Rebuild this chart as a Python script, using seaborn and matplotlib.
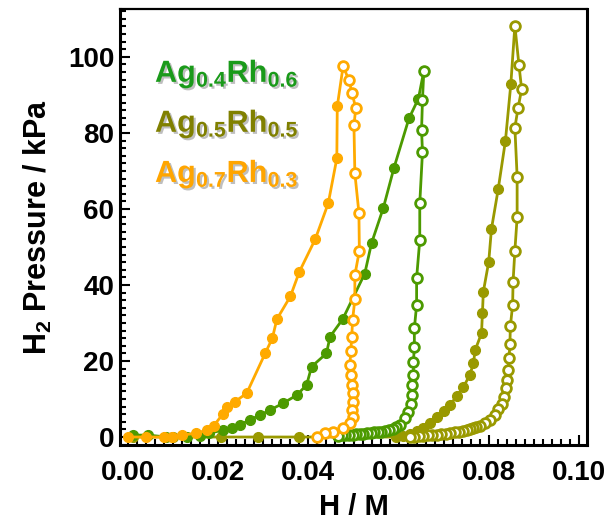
import numpy as np
import matplotlib
matplotlib.use("Agg")
import matplotlib.pyplot as plt
import matplotlib.patheffects as pe
from matplotlib.ticker import MultipleLocator, FormatStrFormatter
import seaborn as sns

# Ag0.7Rh0.3 (orange)
ag07_abs_x = [0.000, 0.004, 0.008, 0.0097, 0.012, 0.015, 0.0175, 0.019, 0.021, 0.022, 0.0237,
              0.0263, 0.0304, 0.032, 0.033, 0.036, 0.038, 0.0415, 0.0444, 0.0463, 0.0464, 0.0477]
ag07_abs_y = [0.0, 0.0, 0.0, 0.0, 0.5, 1.0, 1.8, 3.0, 6.0, 8.0, 9.3,
              11.5, 22.0, 26.0, 31.0, 37.0, 43.5, 52.0, 61.5, 73.3, 87.0, 97.6]
ag07_des_x = [0.0477, 0.0490, 0.0497, 0.0505, 0.0501, 0.0503, 0.0512, 0.0513, 0.0503, 0.0503,
              0.0498, 0.0496, 0.0494, 0.0492, 0.0494, 0.0496, 0.0498, 0.0498, 0.0496, 0.0499,
              0.0492, 0.0477, 0.0455, 0.0437, 0.0418]
ag07_des_y = [97.6, 93.8, 90.4, 86.5, 82.0, 69.4, 59.0, 49.0, 42.6, 36.2,
              30.8, 26.2, 22.7, 19.0, 16.3, 13.7, 11.5, 9.3, 7.1, 5.3,
              3.7, 2.3, 1.4, 1.0, 0.1]

# Ag0.4Rh0.6 (green)
ag04_abs_x = [0.001, 0.0045, 0.0085, 0.013, 0.016, 0.018, 0.021, 0.023, 0.0248, 0.027, 0.0293,
              0.0315, 0.0344, 0.0374, 0.0396, 0.0407, 0.044, 0.0448, 0.0476, 0.0525, 0.054,
              0.0566, 0.059, 0.0623, 0.0644, 0.0656]
ag04_abs_y = [0.5, 0.5, 0.0, 0.0, 0.3, 1.0, 1.8, 2.5, 3.2, 4.5, 5.8,
              7.1, 8.9, 11.0, 13.7, 18.5, 22.0, 26.4, 31.0, 43.0, 51.0,
              60.2, 70.9, 83.8, 89.0, 96.3]
ag04_des_x = [0.0656, 0.0653, 0.0651, 0.0653, 0.0647, 0.0647, 0.0640, 0.0640, 0.0635, 0.0635,
              0.0633, 0.0633, 0.0630, 0.0630, 0.0627, 0.0622, 0.0614, 0.0603, 0.0595, 0.0587,
              0.0578, 0.0570, 0.0562, 0.0554, 0.0546, 0.0538, 0.0530, 0.0522, 0.0514, 0.0506,
              0.0498, 0.0490, 0.0482, 0.0474, 0.0466]
ag04_des_y = [96.3, 88.7, 80.8, 74.9, 61.5, 51.8, 41.8, 34.7, 28.6, 23.8,
              19.8, 16.3, 13.7, 11.0, 8.7, 6.7, 4.9, 3.2, 2.6, 2.2,
              1.9, 1.6, 1.4, 1.3, 1.2, 1.1, 1.0, 0.9, 0.8, 0.7,
              0.6, 0.5, 0.5, 0.4, 0.3]

# Ag0.5Rh0.5 (olive)
ag05_abs_x = [0.001, 0.010, 0.0205, 0.0288, 0.038, 0.0595, 0.0610, 0.0625, 0.0640, 0.0655,
              0.0670, 0.0685, 0.0700, 0.0714, 0.0730, 0.0744, 0.0758, 0.0766, 0.0770, 0.0784,
              0.0786, 0.0788, 0.0800, 0.0806, 0.0821, 0.0837, 0.0849, 0.0858]
ag05_abs_y = [0.0, 0.0, 0.0, 0.0, 0.0, 0.0, 0.3, 0.8, 1.5, 2.5,
              3.8, 5.2, 6.8, 8.5, 10.8, 13.2, 16.3, 19.4, 22.9, 27.3,
              32.5, 38.2, 46.1, 54.7, 65.2, 77.9, 92.8, 108.2]
ag05_des_x = [0.0858, 0.0867, 0.0873, 0.0865, 0.0858, 0.0863, 0.0863, 0.0858, 0.0854, 0.0853,
              0.0848, 0.0847, 0.0845, 0.0843, 0.0841, 0.0838, 0.0834, 0.0829, 0.0821, 0.0814,
              0.0803, 0.0792, 0.0780, 0.0772, 0.0765, 0.0758, 0.0751, 0.0743, 0.0735, 0.0725,
              0.0714, 0.0705, 0.0695, 0.0685, 0.0675, 0.0665, 0.0655, 0.0645, 0.0635, 0.0625]
ag05_des_y = [108.2, 97.9, 91.5, 86.5, 81.4, 68.5, 57.8, 49.0, 40.9, 34.7,
              29.2, 24.5, 20.7, 17.6, 15.0, 12.8, 10.6, 8.8, 7.3, 5.8,
              4.5, 3.6, 2.9, 2.6, 2.3, 2.0, 1.8, 1.6, 1.4, 1.2,
              1.0, 0.9, 0.8, 0.6, 0.5, 0.4, 0.3, 0.2, 0.1, 0.1]

labels = [r"$\mathbf{Ag_{0.4}Rh_{0.6}}$", r"$\mathbf{Ag_{0.5}Rh_{0.5}}$", r"$\mathbf{Ag_{0.7}Rh_{0.3}}$"]
line_colors = ["#4c9a00", "#999900", "#ffaa00"]
text_colors = ["#1a9a1a", "#808000", "#ffa500"]

sns.set_theme(style="ticks")
plt.rcParams["font.family"] = ["Liberation Sans", "DejaVu Sans"]
plt.rcParams["font.weight"] = "bold"
plt.rcParams["mathtext.fontset"] = "custom"
plt.rcParams["mathtext.rm"] = "Liberation Sans:bold"
plt.rcParams["mathtext.bf"] = "Liberation Sans:bold"
plt.rcParams["mathtext.it"] = "Liberation Sans:bold"
plt.rcParams["text.color"] = "black"
plt.rcParams["axes.labelcolor"] = "black"
plt.rcParams["xtick.color"] = "black"
plt.rcParams["ytick.color"] = "black"
plt.rcParams["axes.edgecolor"] = "black"

fig = plt.figure(figsize=(6.09, 5.25), dpi=100)
ax = fig.add_axes([120 / 609, 80 / 525, 467 / 609, 436 / 525])

series = [
    (ag05_abs_x, ag05_abs_y, ag05_des_x, ag05_des_y, line_colors[1]),
    (ag04_abs_x, ag04_abs_y, ag04_des_x, ag04_des_y, line_colors[0]),
    (ag07_abs_x, ag07_abs_y, ag07_des_x, ag07_des_y, line_colors[2]),
]
for ax_x, ax_y, dx, dy, c in series:
    sns.lineplot(x=ax_x, y=ax_y, sort=False, estimator=None, ax=ax, color=c, lw=2,
                 marker="o", markersize=7, markerfacecolor=c, markeredgecolor=c,
                 markeredgewidth=1)
    sns.lineplot(x=dx, y=dy, sort=False, estimator=None, ax=ax, color=c, lw=2,
                 marker="o", markersize=7, markerfacecolor="white", markeredgecolor=c,
                 markeredgewidth=2)

ax.set_xlim(-0.0018, 0.1018)
ax.set_ylim(-2.1, 112.6)
ax.xaxis.set_major_locator(MultipleLocator(0.02))
ax.xaxis.set_minor_locator(MultipleLocator(0.002))
ax.yaxis.set_major_locator(MultipleLocator(20))
ax.yaxis.set_minor_locator(MultipleLocator(2))
ax.xaxis.set_major_formatter(FormatStrFormatter("%.2f"))
ax.tick_params(which="both", direction="in", width=1.5, top=False, right=False)
ax.tick_params(which="major", length=7, labelsize=20)
ax.tick_params(which="minor", length=4)
ax.tick_params(axis="x", pad=11)
ax.tick_params(axis="y", pad=4)
for side in ["left", "bottom", "right"]:
    ax.spines[side].set_linewidth(2.2)
ax.spines["top"].set_linewidth(1.6)

ax.set_xlabel("H / M", fontsize=21, fontweight="bold", labelpad=5)
ax.set_ylabel(r"H$_\mathbf{2}$ Pressure / kPa", fontsize=22, fontweight="bold", labelpad=10)

shadow = [pe.withSimplePatchShadow(offset=(1.5, -1.5), shadow_rgbFace="gray", alpha=0.5)]
for lab, tc, yb in zip(labels, text_colors, [0.8326, 0.718, 0.603]):
    ax.text(0.075, yb, lab, transform=ax.transAxes, fontsize=22, color=tc,
            va="baseline", ha="left", path_effects=shadow)

plt.savefig("out.png", dpi=100)
plt.close()
